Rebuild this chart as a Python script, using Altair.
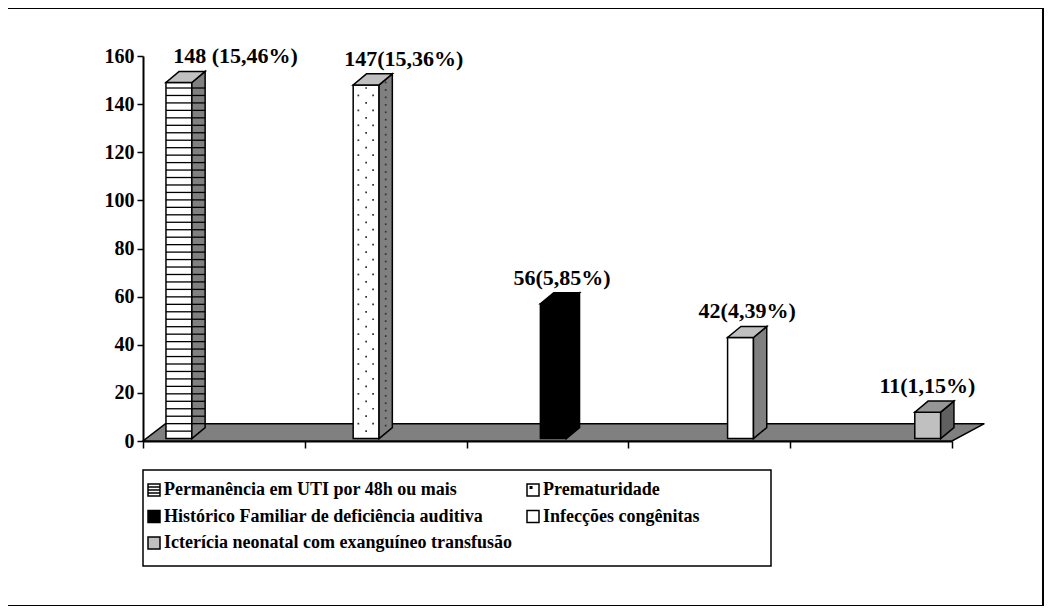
import altair as alt
import pandas as pd

# ---------------- data ----------------
categories = [
    "Permanência em UTI por 48h ou mais",
    "Prematuridade",
    "Histórico Familiar de deficiência auditiva",
    "Infecções congênitas",
    "Icterícia neonatal com exanguíneo transfusão",
]
values = [148, 147, 56, 42, 11]
labels = ["148 (15,46%)", "147(15,36%)", "56(5,85%)", "42(4,39%)", "11(1,15%)"]
patterns = ["stripes", "dots", "solid", "solid", "solid"]
front_fill = ["#ffffff", "#ffffff", "#000000", "#ffffff", "#c0c0c0"]
side_fill = ["#808080", "#808080", "#000000", "#808080", "#606060"]
top_fill = ["#c0c0c0", "#c0c0c0", "#000000", "#c0c0c0", "#969696"]
y_ticks = [0, 20, 40, 60, 80, 100, 120, 140, 160]
x_ticks = [0, 1, 2, 3, 4, 5]

# legend symbols (square outline + pattern hint)
legend_shapes = [
    "M-1,-1H1V1H-1Z M-1,-0.5H1 M-1,0H1 M-1,0.5H1",
    "M-1,-1H1V1H-1Z M-0.45,-0.55H-0.2V-0.3H-0.45Z",
    "square", "square", "square",
]
legend_fill = ["#ffffff", "#ffffff", "#000000", "#ffffff", "#c0c0c0"]

# ---------------- geometry (axis units) ----------------
PLOT_W, PLOT_H = 809, 385
PX_X = PLOT_W / 5.0       # pixels per x unit
X0, STEP, W, DX = 0.142, 1.157, 0.16, 0.082
BASE, DY = 1.0, 4.6
FLOOR_D, FLOOR_L, FLOOR_R = 7.2, 0.14, 0.2
PERIOD = 3.1
LABEL_NUDGE_PX = [50, 31, 2, 0, -7]   # manual label placement of the original

bars = pd.DataFrame({
    "cat": categories, "value": values, "label": labels, "pattern": patterns,
    "front": front_fill, "side": side_fill, "top": top_fill,
})
bars["i"] = range(len(bars))
bars["xl"] = X0 + STEP * bars["i"]
bars["xr"] = bars["xl"] + W
bars["y0"] = BASE
bars["y1"] = BASE + bars["value"]
bars["xlab"] = bars["xl"] + (W + DX) / 2 + pd.Series(LABEL_NUDGE_PX) / PX_X
bars["ylab"] = bars["y1"] + DY

side_rows, top_rows, stripe_rows, dot_rows = [], [], [], []
for b in bars.to_dict("records"):
    side_rows.append({"cat": b["cat"], "fill": b["side"], "x": b["xr"], "y": b["y0"], "y2": b["y1"]})
    side_rows.append({"cat": b["cat"], "fill": b["side"], "x": b["xr"] + DX,
                      "y": b["y0"] + DY, "y2": b["y1"] + DY})
    top_rows.append({"cat": b["cat"], "fill": b["top"], "y": b["y1"], "x": b["xl"], "x2": b["xr"]})
    top_rows.append({"cat": b["cat"], "fill": b["top"], "y": b["y1"] + DY,
                     "x": b["xl"] + DX, "x2": b["xr"] + DX})
    k = 1
    while b["y0"] + PERIOD * k < b["y1"] - 0.5:
        yk = b["y0"] + PERIOD * k
        if b["pattern"] == "stripes":
            stripe_rows.append({"x": b["xl"], "x2": b["xr"], "y": yk, "y2": yk})
            if yk > b["y0"] + DY + 0.3:
                stripe_rows.append({"x": b["xr"], "x2": b["xr"] + DX, "y": yk, "y2": yk})
        elif b["pattern"] == "dots":
            if k % 2 == 0:
                dot_rows.append({"x": b["xl"] + 0.2 * W, "y": yk})
                dot_rows.append({"x": b["xl"] + 0.77 * W, "y": yk})
            else:
                dot_rows.append({"x": b["xl"] + 0.5 * W, "y": yk})
            dot_rows.append({"x": b["xr"] + DX / 2, "y": yk + DY / 2})
        k += 1

side_df = pd.DataFrame(side_rows)
top_df = pd.DataFrame(top_rows)
stripe_df = pd.DataFrame(stripe_rows)
dot_df = pd.DataFrame(dot_rows)
floor_df = pd.DataFrame({"y": [0, FLOOR_D], "x": [0, FLOOR_L], "x2": [5, 5 + FLOOR_R]})

# legend entries laid out in 2 columns (pixel positions relative to plot origin)
LEG_COL_SYM = [11, 390]
LEG_ROW0, LEG_ROW_STEP = 434, 26.5
leg_df = pd.DataFrame({"cat": categories, "shape": legend_shapes, "fill": legend_fill})
leg_df["col"] = [i % 2 for i in range(len(leg_df))]
leg_df["row"] = [i // 2 for i in range(len(leg_df))]
leg_df["sx"] = [LEG_COL_SYM[c] for c in leg_df["col"]]
leg_df["tx"] = leg_df["sx"] + 10
leg_df["ly"] = LEG_ROW0 + LEG_ROW_STEP * leg_df["row"]

# ---------------- scales / axes ----------------
FONT = "Liberation Serif"
xscale = alt.Scale(domain=[0, 5], nice=False, zero=False)
yscale = alt.Scale(domain=[0, 160], nice=False)
xaxis = alt.Axis(values=x_ticks, labels=False, title=None, grid=False, tickSize=7,
                 tickColor="black", tickWidth=1.5, domainColor="black", domainWidth=2)
yaxis = alt.Axis(values=y_ticks, title=None, grid=False, tickSize=6, tickColor="black",
                 tickWidth=1.5, domainColor="black", domainWidth=2, labelFont=FONT,
                 labelFontSize=20, labelFontWeight="bold", labelColor="black", labelPadding=3)

def X(f="x"):
    return alt.X(f"{f}:Q", scale=xscale, axis=xaxis)

def Y(f="y"):
    return alt.Y(f"{f}:Q", scale=yscale, axis=yaxis)

STROKE = dict(stroke="black", strokeWidth=1.5)

floor = alt.Chart(floor_df).mark_area(orient="horizontal", fill="#808080", **STROKE).encode(
    y=Y("y"), x=X("x"), x2="x2:Q")

front = alt.Chart(bars).mark_rect(**STROKE).encode(
    x=X("xl"), x2="xr:Q", y=Y("y0"), y2="y1:Q", fill=alt.Fill("front:N", scale=None))

side = alt.Chart(side_df).mark_area(**STROKE).encode(
    x=X("x"), y=Y("y"), y2="y2:Q", fill=alt.Fill("fill:N", scale=None), detail="cat:N")

top = alt.Chart(top_df).mark_area(orient="horizontal", **STROKE).encode(
    y=Y("y"), x=X("x"), x2="x2:Q", fill=alt.Fill("fill:N", scale=None), detail="cat:N")

stripes = alt.Chart(stripe_df).mark_rule(color="black", strokeWidth=1.3).encode(
    x=X("x"), x2="x2:Q", y=Y("y"), y2="y2:Q")

dots = alt.Chart(dot_df).mark_square(size=3, color="#333333", opacity=1).encode(
    x=X("x"), y=Y("y"))

texts = alt.Chart(bars).mark_text(font=FONT, fontSize=22, fontWeight="bold", color="black",
                                  baseline="bottom", dy=-3).encode(
    x=X("xlab"), y=Y("ylab"), text="label:N")

# legend (box + symbols + labels)
legend_box = alt.Chart(alt.Data(values=[{}])).mark_rect(
    fill="white", stroke="black", strokeWidth=1.5).encode(
    x=alt.value(0), x2=alt.value(628), y=alt.value(414), y2=alt.value(510))

leg_sym = alt.Chart(leg_df).mark_point(filled=True, size=144, opacity=1, **STROKE).encode(
    x=alt.X("sx:Q", scale=None, axis=None), y=alt.Y("ly:Q", scale=None, axis=None),
    shape=alt.Shape("shape:N", scale=None), fill=alt.Fill("fill:N", scale=None))

leg_txt = alt.Chart(leg_df).mark_text(font=FONT, fontSize=18, fontWeight="bold", color="black",
                                      align="left", baseline="middle").encode(
    x=alt.X("tx:Q", scale=None, axis=None), y=alt.Y("ly:Q", scale=None, axis=None),
    text="cat:N")

frame = alt.Chart(alt.Data(values=[{}])).mark_rect(fillOpacity=0, stroke="black", strokeWidth=2).encode(
    x=alt.value(-136), x2=alt.value(900), y=alt.value(-48), y2=alt.value(550))

chart = alt.layer(floor, front, side, top, stripes, dots, texts,
                  legend_box, leg_sym, leg_txt, frame).properties(
    width=PLOT_W, height=PLOT_H,
    padding={"left": 135, "top": 48, "right": 95, "bottom": 165},
    autosize=alt.AutoSizeParams(type="none"),
).configure_view(stroke=None)

chart.save("out.html", embed_options={"renderer": "svg", "actions": False})
